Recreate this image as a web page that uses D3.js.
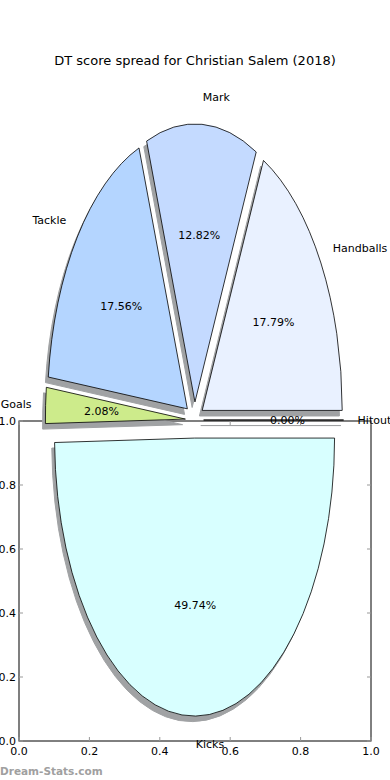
<!DOCTYPE html>
<html>
<head>
<meta charset="utf-8">
<script src="https://cdn.jsdelivr.net/npm/d3@7"></script>
<style>
  body { margin: 0; background: #fff; }
  text { font-family: "DejaVu Sans", sans-serif; }
</style>
</head>
<body>
<div class="chart"></div>
<script>
const w = 390, h = 780;

// slices in drawing order (counter-clockwise from 3 o'clock)
const labels = ["Handballs", "Mark", "Tackle", "Goals", "Kicks", "Hitout"];
const values = [17.79, 12.82, 17.56, 2.08, 49.74, 0.00];
const colors = ["#e9f1ff", "#c4daff", "#b4d5ff", "#cdeb8b", "#d8ffff", "#ffffff"];
const tickValues = [0, 0.2, 0.4, 0.6, 0.8, 1.0];

// pie geometry (elliptical because of the axes aspect)
const cx = 194.5, cy = 420, rx = 140, ry = 278;
const explode = 0.065;

const svg = d3.select(".chart").append("svg")
    .attr("width", w)
    .attr("height", h);

svg.append("text")
    .attr("x", 195).attr("y", 65)
    .attr("text-anchor", "middle")
    .style("font-size", "13px")
    .text("DT score spread for Christian Salem (2018)");

// axes frame
const x = d3.scaleLinear().domain([0, 1]).range([19, 371]);
const y = d3.scaleLinear().domain([0, 1]).range([741, 421]);

const axes = svg.append("g");
axes.append("rect")
    .attr("x", x(0)).attr("y", y(1))
    .attr("width", x(1) - x(0)).attr("height", y(0) - y(1))
    .attr("fill", "none").attr("stroke", "#000").attr("stroke-width", 1);

tickValues.forEach(function (t) {
    axes.append("line").attr("x1", x(t)).attr("x2", x(t)).attr("y1", y(0)).attr("y2", y(0) - 4)
        .attr("stroke", "#999");
    axes.append("line").attr("x1", x(t)).attr("x2", x(t)).attr("y1", y(1)).attr("y2", y(1) + 4)
        .attr("stroke", "#999");
    axes.append("line").attr("x1", x(0)).attr("x2", x(0) + 4).attr("y1", y(t)).attr("y2", y(t))
        .attr("stroke", "#999");
    axes.append("line").attr("x1", x(1)).attr("x2", x(1) - 4).attr("y1", y(t)).attr("y2", y(t))
        .attr("stroke", "#999");
    axes.append("text")
        .attr("x", x(t)).attr("y", y(0) + 14)
        .attr("text-anchor", "middle")
        .style("font-size", "11px")
        .text(t.toFixed(1));
    axes.append("text")
        .attr("x", x(0) - 3).attr("y", y(t) + 4)
        .attr("text-anchor", "end")
        .style("font-size", "11px")
        .text(t.toFixed(1));
});

// pie
const arcs = d3.pie().sort(null)(values);
const total = d3.sum(values);

const slices = arcs.map(function (a, i) {
    const t1 = a.startAngle, t2 = a.endAngle;   // used as math angles (ccw from 3 o'clock)
    const tm = (t1 + t2) / 2;
    const ox = cx + explode * rx * Math.cos(tm);
    const oy = cy - explode * ry * Math.sin(tm);
    return {label: labels[i], value: values[i], color: colors[i], t1: t1, t2: t2, tm: tm, ox: ox, oy: oy};
});

const wedgePath = function (s, dx, dy) {
    const px = s.ox + dx, py = s.oy + dy;
    const x1 = px + rx * Math.cos(s.t1), y1 = py - ry * Math.sin(s.t1);
    const x2 = px + rx * Math.cos(s.t2), y2 = py - ry * Math.sin(s.t2);
    const large = (s.t2 - s.t1) > Math.PI ? 1 : 0;
    return "M" + px + "," + py + "L" + x1 + "," + y1 +
        "A" + rx + "," + ry + " 0 " + large + " 0 " + x2 + "," + y2 + "Z";
};

const pie = svg.append("g");

// shadows
pie.selectAll("path.shadow")
    .data(slices)
    .enter()
    .append("path")
    .attr("class", "shadow")
    .attr("d", function (d) { return wedgePath(d, -0.02 * rx, 0.02 * ry); })
    .attr("fill", "#a0a2a4")
    .attr("stroke", "#a0a2a4")
    .attr("stroke-width", 1);

pie.selectAll("path.wedge")
    .data(slices)
    .enter()
    .append("path")
    .attr("class", "wedge")
    .attr("d", function (d) { return wedgePath(d, 0, 0); })
    .attr("fill", function (d) { return d.color; })
    .attr("stroke", "#000")
    .attr("stroke-width", 0.8);

// labels
pie.selectAll("text.label")
    .data(slices)
    .enter()
    .append("text")
    .attr("class", "label")
    .attr("x", function (d) { return d.ox + 1.1 * rx * Math.cos(d.tm); })
    .attr("y", function (d) { return d.oy - 1.1 * ry * Math.sin(d.tm) + 4; })
    .attr("text-anchor", function (d) { return Math.cos(d.tm) > 0 ? "start" : "end"; })
    .style("font-size", "11px")
    .text(function (d) { return d.label; });

pie.selectAll("text.pct")
    .data(slices)
    .enter()
    .append("text")
    .attr("class", "pct")
    .attr("x", function (d) { return d.ox + 0.6 * rx * Math.cos(d.tm); })
    .attr("y", function (d) { return d.oy - 0.6 * ry * Math.sin(d.tm) + 4; })
    .attr("text-anchor", "middle")
    .style("font-size", "11px")
    .text(function (d) { return (100 * d.value / total).toFixed(2) + "%"; });

svg.append("text")
    .attr("x", 0).attr("y", 775)
    .style("font-size", "10.5px")
    .style("font-weight", "bold")
    .attr("fill", "#a0a0a0")
    .text("Dream-Stats.com");
</script>
</body>
</html>
